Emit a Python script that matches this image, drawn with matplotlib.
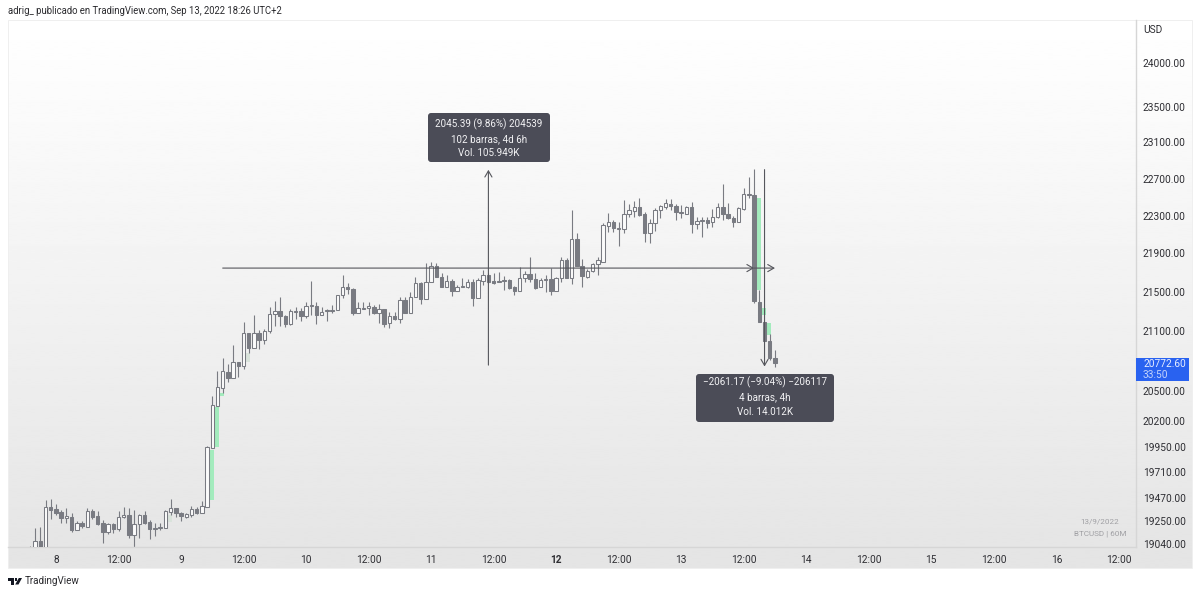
import numpy as np
import matplotlib
matplotlib.use("Agg")
import matplotlib.pyplot as plt
from matplotlib.patches import Rectangle, FancyBboxPatch, Polygon
from matplotlib.ticker import NullLocator

plt.rcParams['font.family'] = ['Roboto', 'DejaVu Sans']

# bar index: hours since 8 Sep 00:00, first bar is -5
first_bar = -5
opens = [18960,18980,19071,18985,19385,19366,19338,19283,19292,19172,
         19237,19200,19348,19301,19237,19154,19228,19182,19292,19311,
         19126,19228,19311,19246,19182,19191,19191,19338,19375,19329,
         19292,19311,19366,19329,19385,19942,20348,20525,20684,20624,
         20783,20743,21076,20924,21076,21005,21096,21269,21300,21249,
         21167,21290,21300,21249,21351,21351,21259,21300,21300,21310,
         21465,21547,21527,21279,21320,21331,21341,21279,21320,21177,
         21249,21218,21413,21279,21444,21589,21423,21599,21766,21652,
         21547,21610,21506,21547,21547,21599,21434,21610,21672,21610,
         21599,21610,21620,21547,21506,21641,21683,21631,21547,21620,
         21631,21506,21641,21829,21641,22051,21766,21652,21714,21787,
         21808,22190,22233,22158,22158,22318,22350,22393,22318,22115,
         22222,22361,22393,22426,22404,22329,22318,22393,22211,22244,
         22254,22233,22286,22393,22318,22276,22233,22372,22523,22523,
         21392,21188,20995,20823]
highs = [19025,19191,19200,19450,19459,19413,19357,19375,19329,19255,
         19255,19375,19366,19348,19264,19237,19237,19348,19385,19375,
         19357,19320,19348,19264,19237,19237,19357,19459,19375,19338,
         19329,19394,19385,19441,19960,20447,20694,20823,20763,20955,
         20783,21188,21076,21259,21106,21116,21341,21403,21444,21259,
         21320,21341,21331,21392,21610,21392,21341,21320,21362,21465,
         21672,21589,21537,21392,21392,21392,21362,21372,21320,21290,
         21290,21444,21444,21496,21652,21599,21798,21808,21798,21693,
         21672,21631,21568,21641,21631,21631,21641,21725,21693,21693,
         21704,21662,21631,21558,21756,21714,21861,21693,21641,21672,
         21745,21652,21861,21850,22361,22115,21840,21735,21798,21861,
         22222,22329,22254,22233,22469,22426,22458,22491,22340,22265,
         22383,22415,22480,22480,22426,22415,22404,22447,22286,22286,
         22286,22372,22437,22642,22437,22297,22393,22599,22719,22806,
         21516,21188,21066,20904]
lows = [18900,18950,18950,18960,19274,19311,19237,19237,19154,19172,
        19191,19200,19274,19219,19053,19136,19145,19163,19283,19099,
        19000,19099,19228,19090,19117,19172,19191,19311,19292,19255,
        19283,19292,19320,19329,19385,19942,20348,20475,20584,20624,
        20634,20714,20874,20924,20914,20965,21076,21147,21147,21137,
        21157,21218,21198,21228,21259,21167,21259,21198,21279,21310,
        21434,21475,21259,21279,21320,21259,21269,21177,21137,21127,
        21208,21177,21279,21279,21444,21372,21423,21599,21652,21547,
        21547,21454,21506,21547,21537,21351,21434,21568,21589,21579,
        21599,21516,21527,21465,21506,21599,21599,21527,21547,21496,
        21465,21506,21599,21641,21579,21766,21547,21641,21704,21672,
        21808,22126,22126,21977,22115,22286,22286,22297,22019,22009,
        22136,22276,22372,22361,22254,22276,22318,22115,22158,22072,
        22169,22179,22276,22254,22265,22179,22233,22361,22491,21382,
        21188,20995,20803,20733]
closes = [19000,19071,18980,19379,19357,19329,19283,19301,19172,19237,
          19209,19348,19292,19228,19154,19228,19182,19292,19311,19126,
          19228,19311,19237,19182,19191,19200,19348,19375,19329,19301,
          19320,19366,19329,19394,19952,20358,20535,20694,20624,20783,
          20743,21076,20924,21076,21005,21096,21269,21300,21249,21167,
          21300,21300,21249,21351,21362,21259,21290,21310,21310,21465,
          21547,21527,21279,21331,21331,21351,21279,21320,21167,21249,
          21218,21413,21279,21444,21589,21423,21599,21766,21652,21547,
          21610,21506,21547,21558,21599,21434,21620,21672,21599,21589,
          21610,21620,21537,21506,21641,21683,21631,21537,21620,21631,
          21506,21641,21829,21641,22051,21766,21662,21714,21787,21829,
          22200,22233,22169,22169,22318,22361,22393,22307,22115,22222,
          22361,22404,22437,22404,22340,22340,22393,22211,22244,22254,
          22222,22286,22393,22318,22276,22233,22383,22534,22534,21403,
          21188,20995,20823,20772.6]

# pale highlights beside the largest candles: bar position, top price, bottom price
glow_bars = [29.85, 30.85, 31.85, 134.85, 135.85, 136.85]
glow_top = [19923, 20338, 20475, 22491, 21331, 21177]
glow_bottom = [19450, 19952, 20447, 21516, 21259, 21056]
faint_bars = [21.85, 36.85]
faint_top = [19311, 20874]
faint_bottom = [19246, 20783]

# measuring tools
measure_bar_a = [32, 134]
measure_price_a = [20753, 22798]
measure_bar_b = [134, 138]
measure_price_b = [22800, 20739]
measure_mid_price = 21745
label_a = ["2045.39 (9.86%) 204539", "102 barras, 4d 6h", "Vol. 105.949K"]
label_b = ["\u22122061.17 (\u22129.04%) \u2212206117", "4 barras, 4h", "Vol. 14.012K"]

last_price = 20772.60
last_price_label = "20772.60"
countdown = "33:50"

y_ticks = [24000, 23500, 23100, 22700, 22300, 21900, 21500, 21100,
           20500, 20200, 19950, 19710, 19470, 19250, 19040]
y_labels = [f"{v:.2f}" for v in y_ticks]
x_ticks = list(range(0, 205, 12))
x_labels = ["8", "12:00", "9", "12:00", "10", "12:00", "11", "12:00", "12",
            "12:00", "13", "12:00", "14", "12:00", "15", "12:00", "16", "12:00"]

W, H = 1200, 594
fig = plt.figure(figsize=(W / 100, H / 100), dpi=100, facecolor="white")

def fx(px):
    return px / W

def fy(py):
    return 1 - py / H

# gradient panel
bg = fig.add_axes([fx(8), fy(568), fx(1192 - 8), (568 - 20) / H], zorder=-1)
bg.imshow(np.linspace(1.0, 0.895, 256).reshape(-1, 1), cmap="gray", vmin=0, vmax=1,
          aspect="auto", interpolation="bilinear")
bg.axis("off")
fig.add_artist(Rectangle((fx(8), fy(568)), fx(1184), 548 / H, transform=fig.transFigure,
                         fill=False, ec="#efefef", lw=0.7, zorder=-0.5))

ax = fig.add_axes([fx(8), fy(547), fx(1136 - 8), (547 - 20) / H])
ax.patch.set_alpha(0)
ax.set_yscale("log")
ax.set_ylim(19014, 24502)
ax.set_xlim(-9.21, 207.3)

for b, t, lo in zip(glow_bars, glow_top, glow_bottom):
    ax.bar(b, t - lo, bottom=lo, width=0.9, color="#a3ebbd", lw=0, zorder=1)
for b, t, lo in zip(faint_bars, faint_top, faint_bottom):
    ax.bar(b, t - lo, bottom=lo, width=0.9, color="#d9e3db", lw=0, zorder=1)

bars = np.arange(first_bar, first_bar + len(opens))
o, h, l, c = map(np.array, (opens, highs, lows, closes))
up = c >= o
edge = "#797b82"
ax.vlines(bars, l, h, color=edge, lw=0.8, zorder=2)
ax.bar(bars[up], (c - o)[up], bottom=o[up], width=0.66, facecolor="#fbfbfb",
       edgecolor=edge, lw=0.75, zorder=3)
ax.bar(bars[~up], (o - c)[~up], bottom=c[~up], width=0.66, facecolor=edge,
       edgecolor=edge, lw=0.75, zorder=3)

# measuring tools
tool = "#55565c"
def arrow(x0, y0, x1, y1):
    ax.annotate("", xy=(x1, y1), xytext=(x0, y0),
                arrowprops=dict(arrowstyle="->,head_length=0.55,head_width=0.32", color=tool,
                                lw=0.8, shrinkA=0, shrinkB=0, mutation_scale=8),
                zorder=4)

arrow(measure_bar_a[0], measure_mid_price, measure_bar_a[1], measure_mid_price)
arrow(np.mean(measure_bar_a), measure_price_a[0], np.mean(measure_bar_a), measure_price_a[1])
arrow(measure_bar_b[0], measure_mid_price, measure_bar_b[1], measure_mid_price)
arrow(np.mean(measure_bar_b), measure_price_b[0], np.mean(measure_bar_b), measure_price_b[1])

# axes
for name in ("top", "left"):
    ax.spines[name].set_visible(False)
for name in ("bottom", "right"):
    ax.spines[name].set_color("#d6d6d6")
    ax.spines[name].set_linewidth(1.0)
ax.yaxis.tick_right()
ax.set_yticks(y_ticks, y_labels)
ax.yaxis.set_minor_locator(NullLocator())
ax.set_xticks(x_ticks, x_labels)
ax.tick_params(axis="y", length=0, pad=5, labelsize=7.3, labelcolor="#2e2e33")
ax.tick_params(axis="x", length=0, pad=5.5, labelsize=7.3, labelcolor="#2e2e33")
ax.get_xticklabels()[8].set_fontweight("bold")

def ftext(px, py, s, **kw):
    kw.setdefault("va", "center")
    return fig.text(fx(px), fy(py), s, **kw)

ftext(1143, 30, "USD", fontsize=7.3, color="#2e2e33")
ftext(7.5, 11, "adrig_ publicado en TradingView.com, Sep 13, 2022 18:26 UTC+2",
      fontsize=6.85, color="#2a2a2e")
ftext(25, 581.5, "TradingView", fontsize=7.15, color="#2a2a2e")
ftext(1100, 521.5, "13/9/2022", fontsize=5.9, color="#a0a0a4", ha="center")
ftext(1100, 534, "BTCUSD | 60M", fontsize=5.9, color="#a0a0a4", ha="center")

# logo
logo = "#131722"
def lp(points):
    return [(fx(a), fy(b)) for a, b in points]
fig.add_artist(Polygon(lp([(7.5, 578), (14, 578), (14, 584.5), (10.8, 584.5), (10.8, 580.8), (7.5, 580.8)]),
                       closed=True, fc=logo, ec="none", transform=fig.transFigure))
fig.add_artist(Polygon(lp([(14.6, 578), (17, 578), (17, 580.6), (14.6, 580.6)]),
                       closed=True, fc=logo, ec="none", transform=fig.transFigure))
fig.add_artist(Polygon(lp([(18.8, 578), (22, 578), (18.5, 584.5), (15.2, 584.5)]),
                       closed=True, fc=logo, ec="none", transform=fig.transFigure))

# tooltips and price tag
def box(x0, y0, x1, y1, color, rounded=True):
    style = "round,pad=0,rounding_size=3" if rounded else "square,pad=0"
    patch = FancyBboxPatch((x0, H - y1), x1 - x0, y1 - y0, boxstyle=style, fc=color, ec="none",
                           transform=None, zorder=5)
    fig.add_artist(patch)
    patch.set_transform(matplotlib.transforms.IdentityTransform())

def tip(x0, y0, x1, y1, lines, ys):
    box(x0, y0, x1, y1, "#4b4c57")
    for s, yy in zip(lines, ys):
        ftext((x0 + x1) / 2, yy, s, fontsize=7.1, color="#f2f2f4", ha="center", zorder=6)

tip(428, 113, 550, 162, label_a, [124, 139, 153])
tip(696, 374, 834, 422, label_b, [382, 397, 412])

box(1136, 358, 1189, 381, "#2962f0", rounded=False)
ftext(1143, 364, last_price_label, fontsize=7.3, color="#e6edff", zorder=6)
ftext(1143, 375, countdown, fontsize=7.3, color="#c3d3fb", zorder=6)

fig.savefig("out.png", dpi=100, facecolor="white")
